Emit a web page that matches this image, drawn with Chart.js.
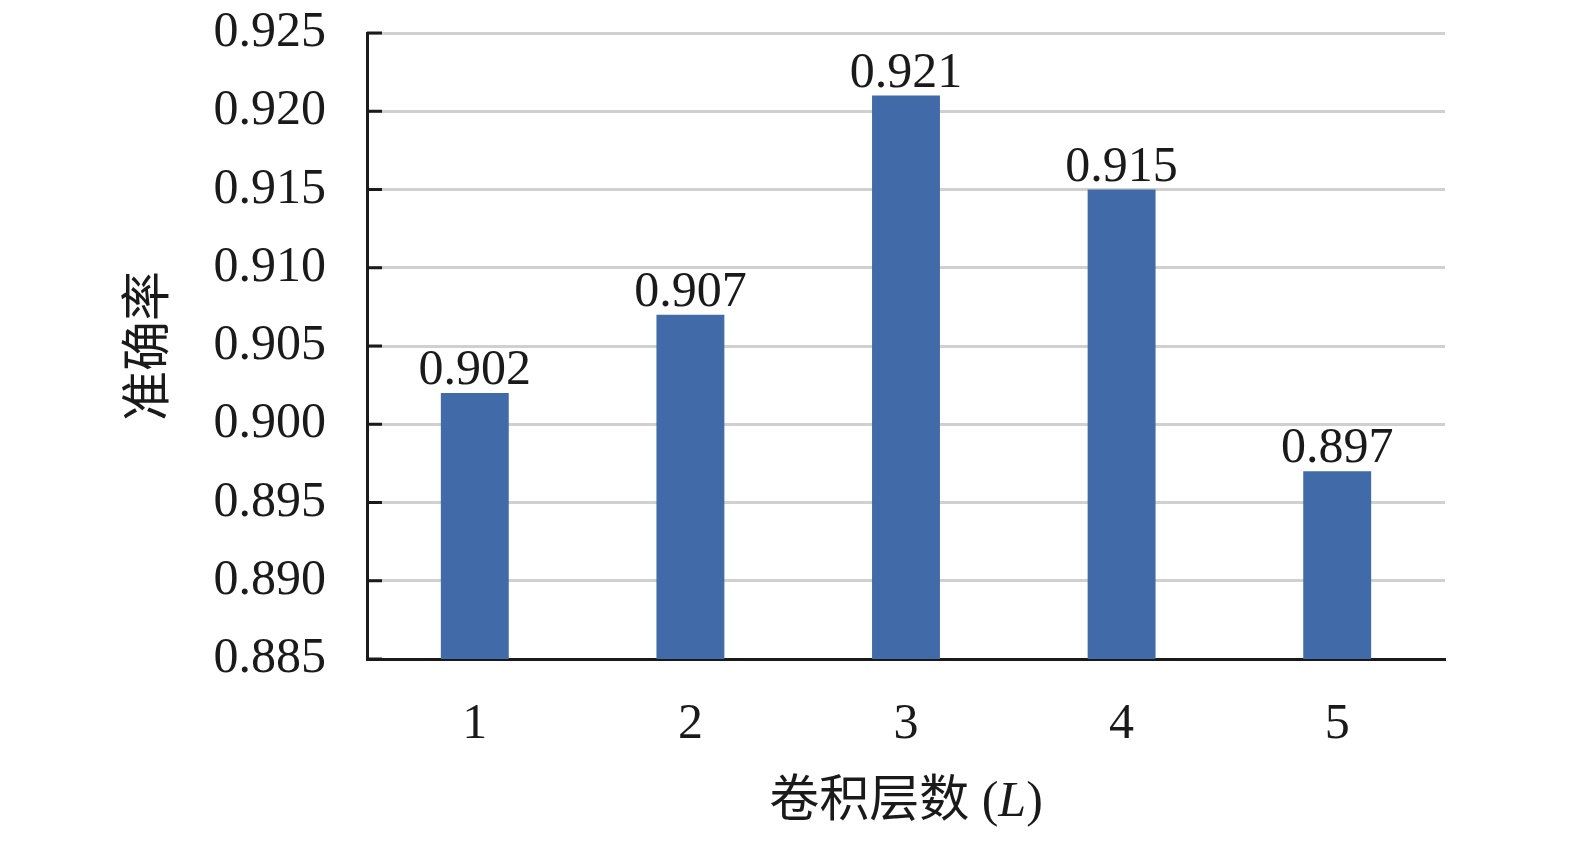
<!DOCTYPE html>
<html>
<head>
<meta charset="utf-8">
<script src="https://cdn.jsdelivr.net/npm/chart.js@4/dist/chart.umd.min.js"></script>
<style>
  html, body { margin: 0; background: #fff; }
</style>
</head>
<body>
<canvas id="myChart" width="1575" height="841"></canvas>
<script>
// data
const layers = ['1', '2', '3', '4', '5']
const accuracy = [0.902, 0.907, 0.921, 0.915, 0.897]
const yTicks = [0.885, 0.890, 0.895, 0.900, 0.905, 0.910, 0.915, 0.920, 0.925]
const yTitle = '准确率'
const xTitle = ['卷积层数 (', 'L', ')']

const SERIF = '"Liberation Serif", "Noto Sans CJK SC", serif'

// short black ticks inside the plot, value labels, x title with italic L
const extras = {
  id: 'extras',
  afterDraw(chart) {
    const {ctx, chartArea, scales: {y}} = chart
    ctx.save()
    ctx.strokeStyle = '#1a1a1a'
    ctx.lineWidth = 3
    y.ticks.forEach((t, i) => {
      const py = y.getPixelForTick(i)
      ctx.beginPath()
      ctx.moveTo(chartArea.left, py)
      ctx.lineTo(chartArea.left + 15, py)
      ctx.stroke()
    })

    ctx.fillStyle = '#1a1a1a'
    ctx.font = '50px ' + SERIF
    ctx.textAlign = 'center'
    ctx.textBaseline = 'alphabetic'
    chart.getDatasetMeta(0).data.forEach((bar, i) => {
      ctx.fillText(accuracy[i].toFixed(3), bar.x, bar.y - 9)
    })

    // x axis title
    const normal = '50px ' + SERIF
    const italic = 'italic 50px ' + SERIF
    ctx.textAlign = 'left'
    ctx.textBaseline = 'middle'
    ctx.font = normal
    const w0 = ctx.measureText(xTitle[0]).width
    const w2 = ctx.measureText(xTitle[2]).width
    ctx.font = italic
    const w1 = ctx.measureText(xTitle[1]).width
    let x = (chartArea.left + chartArea.right) / 2 - (w0 + w1 + w2) / 2
    const ty = 803
    ctx.font = normal
    ctx.fillText(xTitle[0], x, ty)
    x += w0
    ctx.font = italic
    ctx.fillText(xTitle[1], x, ty)
    x += w1
    ctx.font = normal
    ctx.fillText(xTitle[2], x, ty)
    ctx.restore()
  }
}

const ctx = document.getElementById('myChart')
new Chart(ctx, {
  type: 'bar',
  data: {
    labels: layers,
    datasets: [{
      data: accuracy,
      backgroundColor: 'rgb(65, 106, 168)',
      borderWidth: 0,
      categoryPercentage: 1,
      barPercentage: 0.315
    }]
  },
  options: {
    responsive: false,
    animation: false,
    layout: { padding: { top: 33, right: 130, bottom: 0, left: 0 } },
    plugins: {
      legend: { display: false },
      tooltip: { enabled: false }
    },
    scales: {
      x: {
        grid: { display: false, drawTicks: false },
        border: { display: true, color: '#1a1a1a', width: 3 },
        ticks: {
          color: '#1a1a1a',
          padding: 36,
          font: { family: SERIF, size: 50 }
        },
        afterFit(scale) { scale.height = 182 }
      },
      y: {
        min: yTicks[0],
        max: yTicks[yTicks.length - 1],
        afterBuildTicks(scale) {
          scale.ticks = yTicks.map(v => ({ value: v }))
        },
        grid: { color: '#d0d0d0', lineWidth: 3, drawTicks: false },
        border: { display: true, color: '#1a1a1a', width: 3 },
        ticks: {
          color: '#1a1a1a',
          padding: 41,
          font: { family: SERIF, size: 50 },
          callback: v => Number(v).toFixed(3)
        },
        title: {
          display: true,
          text: yTitle,
          color: '#1a1a1a',
          font: { family: SERIF, size: 50 },
          padding: { top: 121, bottom: 0 }
        },
        afterFit(scale) {
          scale.width = 367
          scale.paddingTop = 0
          scale.paddingBottom = 0
        }
      }
    }
  },
  plugins: [extras]
})
</script>
</body>
</html>
